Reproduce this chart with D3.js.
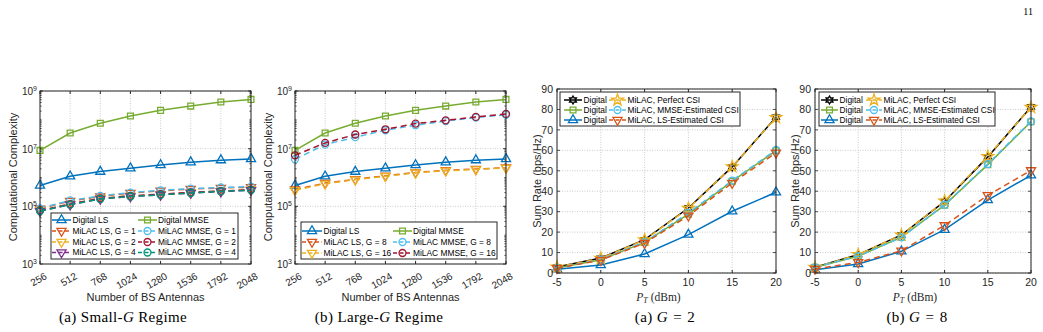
<!DOCTYPE html>
<html>
<head>
<meta charset="utf-8">
<script src="https://cdn.jsdelivr.net/npm/d3@7"></script>
<style>
  body { margin: 0; background: #fff; }
  svg { font-family: "Liberation Sans", Arial, sans-serif; }
  .serif { font-family: "Liberation Serif", "DejaVu Serif", serif; }
</style>
</head>
<body>
<svg id="fig" width="1043" height="332"></svg>
<script>
// ---------- data: complexity vs. number of BS antennas ----------
const antennas = [256, 512, 768, 1024, 1280, 1536, 1792, 2048];
const cxDigitalLS   = [5.3e5, 1.1e6, 1.6e6, 2.1e6, 2.7e6, 3.4e6, 4.0e6, 4.4e6];
const cxDigitalMMSE = [8.7e6, 3.5e7, 7.6e7, 1.36e8, 2.13e8, 3.0e8, 4.15e8, 5.1e8];
// small G
const cxMilacLS_G1   = [8.2e4, 1.52e5, 2.2e5, 2.9e5, 3.45e5, 3.95e5, 4.35e5, 4.6e5];
const cxMilacMMSE_G1 = [8.5e4, 1.6e5, 2.3e5, 3.0e5, 3.6e5, 4.1e5, 4.5e5, 4.8e5];
const cxMilacLS_G2   = [7.2e4, 1.2e5, 1.9e5, 2.3e5, 2.6e5, 3.0e5, 3.4e5, 3.8e5];
const cxMilacMMSE_G2 = [7.2e4, 1.2e5, 1.9e5, 2.3e5, 2.65e5, 3.05e5, 3.4e5, 3.8e5];
const cxMilacLS_G4   = [6.8e4, 1.15e5, 1.8e5, 2.2e5, 2.5e5, 2.9e5, 3.25e5, 3.6e5];
const cxMilacMMSE_G4 = [6.9e4, 1.15e5, 1.8e5, 2.2e5, 2.5e5, 2.9e5, 3.3e5, 3.65e5];
// large G
const cxMilacLS_G8    = [3.8e5, 6.4e5, 8.7e5, 1.15e6, 1.5e6, 1.78e6, 1.96e6, 2.2e6];
const cxMilacMMSE_G8  = [4.3e6, 1.38e7, 2.5e7, 4.35e7, 6.5e7, 9.1e7, 1.2e8, 1.5e8];
const cxMilacLS_G16   = [3.6e5, 6.1e5, 8.4e5, 1.1e6, 1.45e6, 1.72e6, 1.9e6, 2.15e6];
const cxMilacMMSE_G16 = [5.9e6, 1.58e7, 3.1e7, 4.7e7, 7.4e7, 9.6e7, 1.26e8, 1.6e8];
const cxTicks = [1e3, 1e5, 1e7, 1e9];
const cxExp = [3, 5, 7, 9];

// ---------- data: sum rate vs. transmit power ----------
const pT = [-5, 0, 5, 10, 15, 20];
const rateTicks = [0, 10, 20, 30, 40, 50, 60, 70, 80, 90];
// G = 2
const g2DigitalPerfect = [2.9, 7.3, 16.3, 31.8, 51.9, 76.2];
const g2DigitalMMSE    = [2.4, 6.5, 15.0, 28.8, 44.9, 59.8];
const g2DigitalLS      = [1.8, 3.9, 9.3, 18.8, 30.2, 39.5];
const g2MilacPerfect   = [2.9, 7.2, 16.2, 31.6, 52.0, 76.0];
const g2MilacMMSE      = [2.4, 6.6, 15.1, 29.4, 45.2, 60.2];
const g2MilacLS        = [2.3, 6.3, 14.6, 28.0, 44.0, 58.8];
// G = 8
const g8DigitalPerfect = [2.8, 9.0, 18.6, 35.0, 56.8, 81.2];
const g8DigitalMMSE    = [2.8, 8.2, 17.5, 33.2, 53.0, 74.0];
const g8DigitalLS      = [1.6, 4.4, 10.6, 21.2, 35.7, 47.8];
const g8MilacPerfect   = [2.8, 9.0, 18.6, 35.2, 57.0, 81.0];
const g8MilacMMSE      = [2.8, 8.2, 17.4, 33.4, 53.3, 74.2];
const g8MilacLS        = [2.0, 5.2, 10.9, 23.3, 38.0, 50.2];

// ---------- styles ----------
const INK = "#262626";
const col = {
	blue: "#0072BD", orange: "#D95319", yellow: "#EDB120", purple: "#7E2F8E",
	green: "#77AC30", cyan: "#4DBEEE", red: "#A2142F", teal: "#009479", black: "#000000"
};
const DASH = "6,4";

const svg = d3.select("#fig");
svg.append("rect").attr("width", 1043).attr("height", 332).attr("fill", "#fff");

function hexagram(r) {
	const pts = [];
	for (let i = 0; i < 12; i++) {
		const a = -Math.PI / 2 + (i * Math.PI) / 6;
		const rr = i % 2 === 0 ? r : r * 0.58;
		pts.push([rr * Math.cos(a), rr * Math.sin(a)]);
	}
	return "M" + pts.map((p) => p.join(",")).join("L") + "Z";
}

function markerPath(type) {
	switch (type) {
		case "triUp":
		case "triDown": return d3.symbol().type(d3.symbolTriangle).size(36)();
		case "square": return d3.symbol().type(d3.symbolSquare).size(34)();
		case "circle": return d3.symbol().type(d3.symbolCircle).size(38)();
		case "star": return d3.symbol().type(d3.symbolStar).size(42)();
		case "hex": return hexagram(4);
	}
}

function drawMarker(g, type, color, cx, cy) {
	g.append("path")
		.attr("d", markerPath(type))
		.attr("transform", `translate(${cx},${cy})` + (type === "triDown" ? " rotate(180)" : ""))
		.attr("fill", "none")
		.attr("stroke", color)
		.attr("stroke-width", 1.3);
}

function drawSeries(g, x, y, xs, s) {
	const line = d3.line().x((d, i) => x(xs[i])).y((d) => y(d));
	g.append("path")
		.attr("d", line(s.values))
		.attr("fill", "none")
		.attr("stroke", s.color)
		.attr("stroke-width", 1.5)
		.attr("stroke-dasharray", s.dash ? DASH : null);
	s.values.forEach((v, i) => drawMarker(g, s.marker, s.color, x(xs[i]), y(v)));
}

function drawFrame(g, x, y, xTicks, yTicks, yMinor) {
	const [xl, xr] = x.range();
	const [yb, yt] = y.range();
	// dotted grid
	xTicks.forEach((t) => {
		g.append("line").attr("x1", x(t)).attr("x2", x(t)).attr("y1", yb).attr("y2", yt)
			.attr("stroke", "#b4b4b4").attr("stroke-width", 0.7).attr("stroke-dasharray", "1,1.5");
	});
	yTicks.forEach((t) => {
		g.append("line").attr("x1", xl).attr("x2", xr).attr("y1", y(t)).attr("y2", y(t))
			.attr("stroke", "#b4b4b4").attr("stroke-width", 0.7).attr("stroke-dasharray", "1,1.5");
	});
	// inward ticks on all four sides
	xTicks.forEach((t) => {
		g.append("line").attr("x1", x(t)).attr("x2", x(t)).attr("y1", yb).attr("y2", yb - 3).attr("stroke", INK);
		g.append("line").attr("x1", x(t)).attr("x2", x(t)).attr("y1", yt).attr("y2", yt + 3).attr("stroke", INK);
	});
	yTicks.concat(yMinor || []).forEach((t, i) => {
		const len = i < yTicks.length ? 3 : 1.6;
		g.append("line").attr("x1", xl).attr("x2", xl + len).attr("y1", y(t)).attr("y2", y(t)).attr("stroke", INK).attr("stroke-width", 0.8);
		g.append("line").attr("x1", xr).attr("x2", xr - len).attr("y1", y(t)).attr("y2", y(t)).attr("stroke", INK).attr("stroke-width", 0.8);
	});
}

function drawBox(g, x, y) {
	const [xl, xr] = x.range();
	const [yb, yt] = y.range();
	g.append("rect").attr("x", xl).attr("y", yt).attr("width", xr - xl).attr("height", yb - yt)
		.attr("fill", "none").attr("stroke", INK).attr("stroke-width", 1);
}

function drawLegend(g, box, cols, rows, items) {
	g.append("rect").attr("x", box.x).attr("y", box.y).attr("width", box.w).attr("height", box.h)
		.attr("fill", "#fff").attr("stroke", INK).attr("stroke-width", 1);
	items.forEach((it) => {
		const c = cols[it.col];
		const yy = rows[it.row];
		g.append("line").attr("x1", c[0]).attr("x2", c[1]).attr("y1", yy).attr("y2", yy)
			.attr("stroke", it.color).attr("stroke-width", 1.5)
			.attr("stroke-dasharray", it.dash ? "4,2.5" : null);
		drawMarker(g, it.marker, it.color, (c[0] + c[1]) / 2, yy);
		g.append("text").attr("x", c[2]).attr("y", yy).attr("dy", "0.35em")
			.attr("font-size", 8.4).attr("fill", "#000").text(it.label);
	});
}

function caption(g, cx, parts) {
	const cap = g.append("text").attr("class", "serif").attr("x", cx).attr("y", 322)
		.attr("text-anchor", "middle").attr("font-size", 15).attr("letter-spacing", 0.35).attr("fill", "#000");
	parts.forEach((p) => {
		const t = cap.append("tspan").text(p.t);
		if (p.it) t.attr("font-style", "italic");
	});
}

// ---------- complexity panels ----------
function complexityPanel(left, right, series, legendBox, legendCols, legendRows, capX, capPre) {
	const g = svg.append("g");
	const x = d3.scaleLinear().domain([256, 2048]).range([left, right]);
	const y = d3.scaleLog().domain([1e3, 1e9]).range([264, 91]);
	const minor = [];
	for (let k = 3; k < 9; k++) for (let m = 2; m <= 10; m++) minor.push(m * Math.pow(10, k));
	drawFrame(g, x, y, antennas, cxTicks, minor);
	series.forEach((s) => drawSeries(g, x, y, antennas, s));
	drawBox(g, x, y);

	// y tick labels 10^k
	cxTicks.forEach((t, i) => {
		const tx = g.append("text").attr("x", left - 3).attr("y", y(t)).attr("dy", "0.4em")
			.attr("text-anchor", "end").attr("font-size", 10).attr("fill", INK);
		tx.append("tspan").text("10");
		tx.append("tspan").attr("dy", "-0.55em").attr("font-size", 7).text(cxExp[i]);
	});
	// rotated x tick labels
	antennas.forEach((t) => {
		g.append("text")
			.attr("transform", `translate(${x(t) + 4},${272}) rotate(-30)`)
			.attr("dy", "0.71em").attr("text-anchor", "end")
			.attr("font-size", 10).attr("fill", INK).text(t);
	});
	g.append("text").attr("x", (left + right) / 2).attr("y", 300.5)
		.attr("text-anchor", "middle").attr("font-size", 11).attr("fill", INK)
		.text("Number of BS Antennas");
	g.append("text").attr("transform", `translate(${left - 27},177) rotate(-90)`)
		.attr("text-anchor", "middle").attr("dy", "0.35em").attr("font-size", 11).attr("fill", INK)
		.text("Computational Complexity");

	const items = series.map((s, i) => ({ ...s, col: i % 2, row: Math.floor(i / 2) }));
	drawLegend(g, legendBox, legendCols, legendRows, items);

	caption(g, capX, [{ t: capPre }, { t: "G", it: true }, { t: " Regime" }]);
}

complexityPanel(40, 251, [
	{ label: "Digital LS", values: cxDigitalLS, color: col.blue, marker: "triUp" },
	{ label: "Digital MMSE", values: cxDigitalMMSE, color: col.green, marker: "square" },
	{ label: "MiLAC LS, G = 1", values: cxMilacLS_G1, color: col.orange, marker: "triDown", dash: true },
	{ label: "MiLAC MMSE, G = 1", values: cxMilacMMSE_G1, color: col.cyan, marker: "circle", dash: true },
	{ label: "MiLAC LS, G = 2", values: cxMilacLS_G2, color: col.yellow, marker: "triDown", dash: true },
	{ label: "MiLAC MMSE, G = 2", values: cxMilacMMSE_G2, color: col.red, marker: "circle", dash: true },
	{ label: "MiLAC LS, G = 4", values: cxMilacLS_G4, color: col.purple, marker: "triDown", dash: true },
	{ label: "MiLAC MMSE, G = 4", values: cxMilacMMSE_G4, color: col.teal, marker: "circle", dash: true }
], { x: 51, y: 213, w: 187, h: 46 }, [[52, 71, 72.5], [138, 157, 158]], [220, 231, 242, 252.5],
	123, "(a) Small-");

complexityPanel(295, 506, [
	{ label: "Digital LS", values: cxDigitalLS, color: col.blue, marker: "triUp" },
	{ label: "Digital MMSE", values: cxDigitalMMSE, color: col.green, marker: "square" },
	{ label: "MiLAC LS, G = 8", values: cxMilacLS_G8, color: col.orange, marker: "triDown", dash: true },
	{ label: "MiLAC MMSE, G = 8", values: cxMilacMMSE_G8, color: col.cyan, marker: "circle", dash: true },
	{ label: "MiLAC LS, G = 16", values: cxMilacLS_G16, color: col.yellow, marker: "triDown", dash: true },
	{ label: "MiLAC MMSE, G = 16", values: cxMilacMMSE_G16, color: col.red, marker: "circle", dash: true }
], { x: 301, y: 222, w: 196, h: 37 }, [[302, 322, 323.5], [393, 412, 413]], [231, 242, 253],
	379, "(b) Large-");

// ---------- sum-rate panels ----------
function ratePanel(left, right, series, legendBox, legendCols, capX, capPre, capG) {
	const g = svg.append("g");
	const x = d3.scaleLinear().domain([-5, 20]).range([left, right]);
	const y = d3.scaleLinear().domain([0, 90]).range([273, 89]);
	drawFrame(g, x, y, pT, rateTicks);
	series.forEach((s) => drawSeries(g, x, y, pT, s));
	drawBox(g, x, y);

	rateTicks.forEach((t) => {
		g.append("text").attr("x", left - 4).attr("y", y(t)).attr("dy", "0.36em")
			.attr("text-anchor", "end").attr("font-size", 10.5).attr("fill", INK).text(t);
	});
	pT.forEach((t) => {
		g.append("text").attr("x", x(t)).attr("y", 286).attr("text-anchor", "middle")
			.attr("font-size", 10.5).attr("fill", INK).text(t);
	});
	const xl = g.append("text").attr("class", "serif").attr("x", (left + right) / 2 - 8).attr("y", 300.5)
		.attr("text-anchor", "middle").attr("font-size", 11.5).attr("fill", INK);
	xl.append("tspan").attr("font-style", "italic").text("P");
	xl.append("tspan").attr("font-style", "italic").attr("font-size", 8).attr("dy", "2").text("T");
	xl.append("tspan").attr("dy", "-2").text(" (dBm)");
	g.append("text").attr("transform", `translate(${left - 20},181) rotate(-90)`)
		.attr("text-anchor", "middle").attr("dy", "0.35em").attr("font-size", 11).attr("fill", INK)
		.text("Sum Rate (bps/Hz)");

	// legend fills column by column: three Digital entries, then three MiLAC entries
	const items = series.map((s, i) => ({ ...s, col: i < 3 ? 0 : 1, row: i % 3 }));
	drawLegend(g, legendBox, legendCols, [100, 110, 120], items);

	caption(g, capX, [{ t: capPre }, { t: "G", it: true }, { t: "\u2004=\u2004" + capG }]);
}

ratePanel(557, 776, [
	{ label: "Digital", values: g2DigitalPerfect, color: col.black, marker: "hex" },
	{ label: "Digital", values: g2DigitalMMSE, color: col.green, marker: "square" },
	{ label: "Digital", values: g2DigitalLS, color: col.blue, marker: "triUp" },
	{ label: "MiLAC, Perfect CSI", values: g2MilacPerfect, color: col.yellow, marker: "star", dash: true },
	{ label: "MiLAC, MMSE-Estimated CSI", values: g2MilacMMSE, color: col.cyan, marker: "circle", dash: true },
	{ label: "MiLAC, LS-Estimated CSI", values: g2MilacLS, color: col.orange, marker: "triDown", dash: true }
], { x: 560, y: 92, w: 180, h: 34 }, [[564, 582, 583.5], [609, 626, 627.5]], 665, "(a) ", 2);

ratePanel(815, 1031, [
	{ label: "Digital", values: g8DigitalPerfect, color: col.black, marker: "hex" },
	{ label: "Digital", values: g8DigitalMMSE, color: col.green, marker: "square" },
	{ label: "Digital", values: g8DigitalLS, color: col.blue, marker: "triUp" },
	{ label: "MiLAC, Perfect CSI", values: g8MilacPerfect, color: col.yellow, marker: "star", dash: true },
	{ label: "MiLAC, MMSE-Estimated CSI", values: g8MilacMMSE, color: col.cyan, marker: "circle", dash: true },
	{ label: "MiLAC, LS-Estimated CSI", values: g8MilacLS, color: col.orange, marker: "triDown", dash: true }
], { x: 819, y: 92, w: 176, h: 34 }, [[821, 838, 839.5], [866, 882, 883.5]], 917, "(b) ", 8);

// page number
svg.append("text").attr("class", "serif").attr("x", 1033).attr("y", 15)
	.attr("text-anchor", "end").attr("font-size", 10).attr("fill", "#000").text("11");
</script>
</body>
</html>
